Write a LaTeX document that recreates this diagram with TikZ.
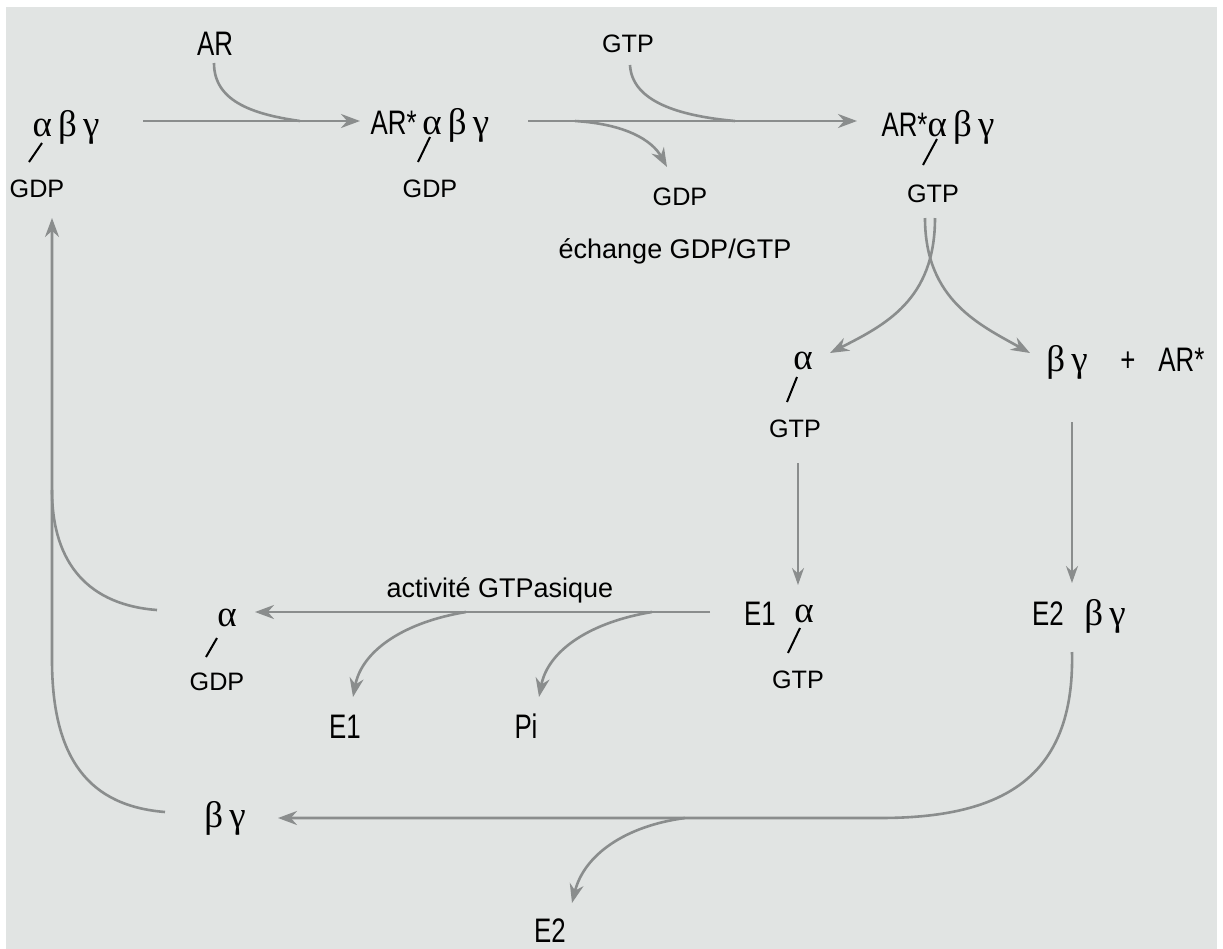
\documentclass[tikz,border=0pt]{standalone}
\usepackage{fontspec}
\setmainfont{Liberation Sans}
\newfontfamily\grkfont{Liberation Serif}
\newfontfamily\condfont{Liberation Sans}[FakeStretch=0.76]
\usetikzlibrary{arrows.meta}
\definecolor{bgcol}{RGB}{225,228,227}
\definecolor{arrcol}{RGB}{138,141,141}
\newcommand{\gr}[1]{{\fontsize{18.5}{18}\grkfont #1}}

\begin{document}
\begin{tikzpicture}[x=0.5pt,y=-0.5pt,
	big/.style={anchor=base,inner sep=0pt,font=\fontsize{17}{17}\condfont},
	small/.style={anchor=base,inner sep=0pt,font=\fontsize{12.6}{13}\selectfont},
	caption/.style={anchor=base,inner sep=0pt,font=\fontsize{13.5}{14}\selectfont},
	bond/.style={black,line width=1pt},
	line/.style={arrcol,line width=1.3pt},
	flow/.style={line,-{Stealth[length=9.5pt,width=7pt]}},
	thinflow/.style={arrcol,line width=0.8pt,-{Stealth[length=8.5pt,width=6pt]}}]
		\fill[white] (0,0) rectangle (1223,949);
		\fill[bgcol] (6,7) rectangle (1217,949);
		\useasboundingbox (0,0) rectangle (1223,949);
		%Row 1
		\node[big] (g1) at (66,136) {\gr{α\,β\,γ}};
		\node[small] (gdp1) at (37,197) {GDP};
		\node[big] (ar) at (215,55) {AR};
		\node[big] (ar2) at (430,134) {AR*\,\gr{α\,β\,γ}};
		\node[small] (gdp2) at (430,197) {GDP};
		\node[small] (gtp) at (628,52) {GTP};
		\node[small] (gdp3) at (680,205) {GDP};
		\node[caption] (exch) at (675,258) {échange GDP/GTP};
		\node[big] (ar3) at (938,136) {AR*\gr{α\,β\,γ}};
		\node[small] (gtp3) at (933,202) {GTP};
		\coordinate (b1a) at (42,143); \coordinate (b1b) at (29,162);
		\coordinate (b2a) at (430,137); \coordinate (b2b) at (418,162);
		\coordinate (b3a) at (937,139); \coordinate (b3b) at (923,165);
		\draw[bond] (b1a)--(b1b);
		\draw[bond] (b2a)--(b2b);
		\draw[bond] (b3a)--(b3b);
		\coordinate (p1) at (143,121); \coordinate (p2) at (360,121);
		\coordinate (ars) at (214,63); \coordinate (j1) at (300,121);
		\draw[flow] (p1)--(p2);
		\draw[line] (ars) .. controls (214,100) and (250,114) .. (j1);
		\coordinate (p3) at (528,121); \coordinate (p4) at (857,121);
		\coordinate (gtps) at (630,65); \coordinate (j2) at (735,121);
		\coordinate (j3) at (575,121); \coordinate (gdpt) at (667,167);
		\draw[flow] (p3)--(p4);
		\draw[line] (gtps) .. controls (632,102) and (680,116) .. (j2);
		\draw[flow] (j3) .. controls (625,124) and (652,140) .. (gdpt);
		%Row 2
		\node[big] (a4) at (803,369) {\gr{α}};
		\node[small] (gtp4) at (795,437) {GTP};
		\node[big] (bg4) at (1067,371) {\gr{β\,γ}};
		\node[big] (plus) at (1128,371) {+};
		\node[big,anchor=base west] (ar4) at (1158,371) {AR*};
		\coordinate (b4a) at (797,377); \coordinate (b4b) at (787,402);
		\draw[bond] (b4a)--(b4b);
		\coordinate (s1) at (935,218); \coordinate (t1) at (830,353);
		\coordinate (s2) at (925,218); \coordinate (t2) at (1030,353);
		\draw[flow] (s1) .. controls (935,300) and (885,325) .. (t1);
		\draw[flow] (s2) .. controls (925,300) and (980,325) .. (t2);
		\coordinate (v1) at (798,463); \coordinate (v2) at (798,585);
		\coordinate (v3) at (1072,422); \coordinate (v4) at (1072,583);
		\draw[thinflow] (v1)--(v2);
		\draw[thinflow] (v3)--(v4);
		%Row 3
		\node[big] (e1) at (760,625) {E1};
		\node[big] (a5) at (804,622) {\gr{α}};
		\node[small] (gtp5) at (798,688) {GTP};
		\node[big] (e2) at (1048,625) {E2};
		\node[big] (bg5) at (1105,625) {\gr{β\,γ}};
		\node[caption] (act) at (500,597) {activité GTPasique};
		\node[big] (a6) at (227,626) {\gr{α}};
		\node[small] (gdp6) at (217,690) {GDP};
		\node[big] (e1b) at (345,738) {E1};
		\node[big] (pi) at (526,738) {Pi};
		\coordinate (b5a) at (800,628); \coordinate (b5b) at (788,653);
		\coordinate (b6a) at (217,638); \coordinate (b6b) at (206,657);
		\draw[bond] (b5a)--(b5b);
		\draw[bond] (b6a)--(b6b);
		\coordinate (h1) at (710,612); \coordinate (h2) at (255,612);
		\coordinate (hb1) at (466,612); \coordinate (e1t) at (353,697);
		\coordinate (hb2) at (652,612); \coordinate (pit) at (539,697);
		\draw[flow] (h1)--(h2);
		\draw[flow] (hb1) .. controls (405,622) and (362,650) .. (e1t);
		\draw[flow] (hb2) .. controls (591,622) and (548,650) .. (pit);
		%Row 4
		\node[big] (bg7) at (225,827) {\gr{β\,γ}};
		\node[big] (e2b) at (550,942) {E2};
		\coordinate (c1) at (1072,652); \coordinate (c2) at (880,818);
		\coordinate (c3) at (278,818);
		\coordinate (hb3) at (685,818); \coordinate (e2t) at (572,903);
		\draw[flow] (c1) .. controls (1075,780) and (1000,818) .. (c2)--(c3);
		\draw[flow] (hb3) .. controls (625,826) and (584,855) .. (e2t);
		%Back to the start
		\coordinate (l1) at (165,812); \coordinate (l2) at (52,660);
		\coordinate (l3) at (52,218);
		\coordinate (l4) at (157,610); \coordinate (l5) at (52,490);
		\draw[flow] (l1) .. controls (90,806) and (52,760) .. (l2)--(l3);
		\draw[line] (l4) .. controls (90,605) and (52,565) .. (l5);
\end{tikzpicture}
\end{document}
